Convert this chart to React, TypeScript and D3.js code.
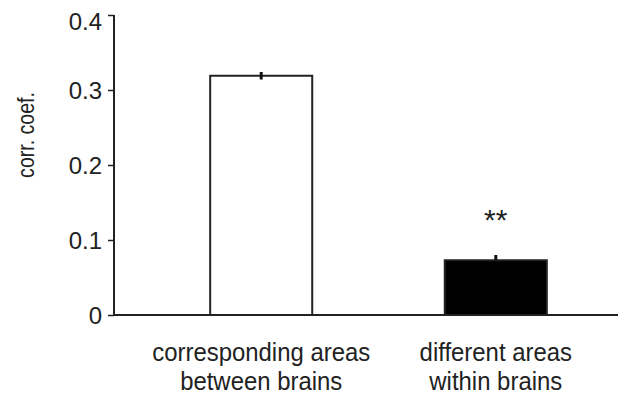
import React, { useEffect, useRef } from "react";
import * as d3 from "d3";

const categories = ["corresponding areas\nbetween brains", "different areas\nwithin brains"];
const values = [0.319, 0.073];
const errors = [0.005, 0.007];
const fills = ["#ffffff", "#000000"];
const marks = ["", "**"];
const yTicks = [0, 0.1, 0.2, 0.3, 0.4];

const App = () => {
  const ref = useRef<SVGSVGElement>(null);

  useEffect(() => {
    const svg = d3.select(ref.current);
    svg.selectAll("*").remove();
    const font = "'Liberation Sans', Arial, sans-serif";

    const y = d3.scaleLinear().domain([0, 0.4]).range([315, 15]);
    const x = d3
      .scaleBand()
      .domain(d3.range(categories.length).map(String))
      .range([114, 643])
      .paddingInner(0.565)
      .paddingOuter(0.41);

    // y axis
    const yAxis = d3
      .axisLeft(y)
      .tickValues(yTicks)
      .tickSize(6)
      .tickPadding(6)
      .tickFormat((d) => (d === 0 ? "0" : d3.format(".1f")(d as number)));
    const gy = svg.append("g").attr("transform", "translate(114,0)").call(yAxis);
    gy.select(".domain").attr("stroke", "#222").attr("stroke-width", 2).attr("d", "M0,15V315");
    gy.selectAll(".tick line").attr("stroke", "#222").attr("stroke-width", 1.5);
    gy.selectAll(".tick text")
      .attr("font-family", font)
      .attr("font-size", 24)
      .attr("fill", "#222")
      .attr("dy", (d) => ((d as number) === 0.4 ? "0.6em" : "0.34em"));

    svg
      .append("text")
      .attr("transform", "translate(34,135) rotate(-90) scale(0.85,1)")
      .attr("text-anchor", "middle")
      .attr("font-family", font)
      .attr("font-size", 23)
      .attr("fill", "#222")
      .text("corr. coef.");

    // bars
    const idx = d3.range(categories.length);
    svg
      .selectAll("rect.bar")
      .data(idx)
      .enter()
      .append("rect")
      .attr("class", "bar")
      .attr("x", (i) => x(String(i))!)
      .attr("width", x.bandwidth())
      .attr("y", (i) => y(values[i]))
      .attr("height", (i) => y(0) - y(values[i]))
      .attr("fill", (i) => fills[i])
      .attr("stroke", "#222")
      .attr("stroke-width", 2);

    // error bars
    svg
      .selectAll("line.err")
      .data(idx)
      .enter()
      .append("line")
      .attr("x1", (i) => x(String(i))! + x.bandwidth() / 2)
      .attr("x2", (i) => x(String(i))! + x.bandwidth() / 2)
      .attr("y1", (i) => y(values[i] + errors[i]))
      .attr("y2", (i) => y(values[i] - (fills[i] === "#000000" ? 0 : errors[i])))
      .attr("stroke", "#111")
      .attr("stroke-width", 3);

    // x axis line
    svg
      .append("line")
      .attr("x1", 114)
      .attr("x2", 618)
      .attr("y1", y(0))
      .attr("y2", y(0))
      .attr("stroke", "#222")
      .attr("stroke-width", 2);

    // significance
    svg
      .selectAll("text.sig")
      .data(idx)
      .enter()
      .append("text")
      .attr("x", (i) => x(String(i))! + x.bandwidth() / 2)
      .attr("y", (i) => y(values[i] + errors[i]) - 25)
      .attr("text-anchor", "middle")
      .attr("font-family", font)
      .attr("font-size", 30)
      .attr("fill", "#222")
      .text((i) => marks[i]);

    // category labels (slightly condensed like the original)
    idx.forEach((i) => {
      const t = svg
        .append("g")
        .attr("transform", `translate(${x(String(i))! + x.bandwidth() / 2},0) scale(0.92,1)`)
        .append("text")
        .attr("text-anchor", "middle")
        .attr("font-family", font)
        .attr("font-size", 26)
        .attr("fill", "#222");
      categories[i].split("\n").forEach((line, k) => {
        t.append("tspan")
          .attr("x", 0)
          .attr("y", 361 + k * 29)
          .text(line);
      });
    });
  }, []);

  return (
    <svg
      ref={ref}
      width={621}
      height={396}
      style={{ position: "absolute", left: 0, top: 0, display: "block", background: "#fff" }}
    />
  );
};

export default App;
